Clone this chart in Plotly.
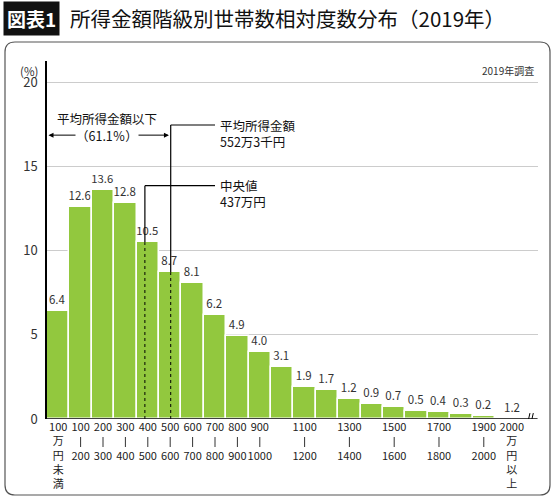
import plotly.graph_objects as go

# 所得金額階級（万円）
classes = ["100万円未満", "100-200", "200-300", "300-400", "400-500", "500-600",
           "600-700", "700-800", "800-900", "900-1000", "1000-1100", "1100-1200",
           "1200-1300", "1300-1400", "1400-1500", "1500-1600", "1600-1700",
           "1700-1800", "1800-1900", "1900-2000", "2000万円以上"]
share = [6.4, 12.6, 13.6, 12.8, 10.5, 8.7, 8.1, 6.2, 4.9, 4.0, 3.1,
         1.9, 1.7, 1.2, 0.9, 0.7, 0.5, 0.4, 0.3, 0.2, 1.2]
# lower / upper bound shown under each bar ("" = no label)
tick_low = ["100", "100", "200", "300", "400", "500", "600", "700", "800", "900", "",
            "1100", "", "1300", "", "1500", "", "1700", "", "1900", "2000"]
tick_high = ["万円未満", "200", "300", "400", "500", "600", "700", "800", "900", "1000", "",
             "1200", "", "1400", "", "1600", "", "1800", "", "2000", "万円以上"]
median_income = 437     # 万円
mean_income = 552.3     # 万円
below_mean_pct = 61.1

FONT = "Noto Sans CJK JP"
W, H = 560, 499
L, R, T, B = 47, 22, 61, 80
GREEN = "#92C83E"


def px(x, y):
    # pixel -> paper coords
    return (x - L) / (W - L - R), (H - B - y) / (H - T - B)


def inc(v):
    # income (万円) -> x position on the bar axis
    return v / 100 - 0.5


xs = list(range(len(classes)))
# the open-ended top class sits a little right, past the axis break
tick_pos = xs[:-1] + [xs[-1] + 0.25]

tick_text = []
range_ticks = []
for i, (lo, hi) in enumerate(zip(tick_low, tick_high)):
    if not lo:
        tick_text.append("")
    elif hi.startswith("万"):
        tick_text.append(lo + "<br>" + "<br>".join(hi))
    else:
        tick_text.append(lo + "<br>\u3000<br>" + hi)
        range_ticks.append(tick_pos[i])

fig = go.Figure()
fig.add_trace(go.Bar(
    x=xs[:-1], y=share[:-1], width=1,
    marker=dict(color=GREEN, line=dict(color="white", width=1.5)),
    text=[f"{v:.1f}" for v in share[:-1]], textposition="outside",
    textfont=dict(size=11.5, color="#333", family=FONT),
    cliponaxis=False, hoverinfo="skip",
))

shapes = []
# frame
x0, y0 = px(5, 42)
x1, y1 = px(550, 495)
rx = 10 / (W - L - R)
ry = 10 / (H - T - B)
path = (f"M {x0+rx},{y0} L {x1-rx},{y0} Q {x1},{y0} {x1},{y0-ry} "
        f"L {x1},{y1+ry} Q {x1},{y1} {x1-rx},{y1} L {x0+rx},{y1} "
        f"Q {x0},{y1} {x0},{y1+ry} L {x0},{y0-ry} Q {x0},{y0} {x0+rx},{y0} Z")
shapes.append(dict(type="path", path=path, xref="paper", yref="paper",
                   line=dict(color="#555", width=1.2)))
# range dashes between lower/upper tick labels
_, d0 = px(0, 437)
_, d1 = px(0, 447)
for tp in range_ticks:
    shapes.append(dict(type="line", xref="x", yref="paper", x0=tp, x1=tp, y0=d0, y1=d1,
                       line=dict(color="#333", width=1)))
# x axis line + break mark
shapes.append(dict(type="line", xref="x", yref="y", x0=-0.5, x1=21.4, y0=0, y1=0,
                   line=dict(color="black", width=1.5), layer="above"))
for bx in (21.0, 21.15):
    shapes.append(dict(type="line", xref="x", yref="y", x0=bx - 0.06, x1=bx + 0.06,
                       y0=-0.35, y1=0.35, line=dict(color="black", width=1)))

# median line
mx = inc(median_income)
shapes.append(dict(type="line", xref="x", yref="y", x0=mx, x1=mx, y0=0, y1=share[4],
                   line=dict(color="black", width=1, dash="dot"), layer="above"))
shapes.append(dict(type="line", xref="x", yref="y", x0=mx, x1=mx, y0=share[4], y1=13.85,
                   line=dict(color="black", width=1.2)))
shapes.append(dict(type="line", xref="x", yref="y", x0=mx, x1=7.0, y0=13.85, y1=13.85,
                   line=dict(color="black", width=1.2)))
# mean line
ax_ = inc(mean_income)
shapes.append(dict(type="line", xref="x", yref="y", x0=ax_, x1=ax_, y0=0, y1=share[5],
                   line=dict(color="black", width=1, dash="dot"), layer="above"))
shapes.append(dict(type="line", xref="x", yref="y", x0=ax_, x1=ax_, y0=share[5], y1=17.45,
                   line=dict(color="black", width=1.2)))
shapes.append(dict(type="line", xref="x", yref="y", x0=ax_, x1=7.0, y0=17.45, y1=17.45,
                   line=dict(color="black", width=1.2)))

ann = []
# title
tx, ty = px(3, 18)
ann.append(dict(xref="paper", yref="paper", x=tx, y=ty, xanchor="left", yanchor="middle",
                text="<b>図表1</b>", showarrow=False, bgcolor="#111", borderpad=3,
                font=dict(family=FONT, size=19, color="white")))
tx, ty = px(68, 18)
ann.append(dict(xref="paper", yref="paper", x=tx, y=ty, xanchor="left", yanchor="middle",
                text="所得金額階級別世帯数相対度数分布（2019年）", showarrow=False,
                font=dict(family=FONT, size=20.5, color="#111")))
tx, ty = px(536, 70)
ann.append(dict(xref="paper", yref="paper", x=tx, y=ty, xanchor="right", yanchor="middle",
                text="2019年調査", showarrow=False, font=dict(family=FONT, size=10, color="#333")))
tx, ty = px(40, 71)
ann.append(dict(xref="paper", yref="paper", x=tx, y=ty, xanchor="right", yanchor="middle",
                text="(%)", showarrow=False, font=dict(family=FONT, size=11.5, color="#333")))
# last class label (bar broken off)
ann.append(dict(xref="x", yref="y", x=tick_pos[-1], y=0, yanchor="bottom", yshift=2,
                text=f"{share[-1]:.1f}", showarrow=False,
                font=dict(family=FONT, size=11.5, color="#333")))
# below-mean arrow
ann.append(dict(xref="x", yref="y", x=ax_ - 0.08, y=16.85, axref="x", ayref="y",
                ax=-0.5, ay=16.85, text="", showarrow=True, arrowside="end+start",
                arrowhead=2, arrowsize=1, arrowwidth=1, arrowcolor="black"))
ann.append(dict(xref="x", yref="y", x=2.18, y=17.85, text="平均所得金額以下", showarrow=False,
                font=dict(family=FONT, size=12.5, color="#111")))
ann.append(dict(xref="x", yref="y", x=2.18, y=16.85, text=f"（{below_mean_pct}％）",
                showarrow=False, bgcolor="white", borderpad=0,
                font=dict(family=FONT, size=12.5, color="#111")))
# mean / median labels
ann.append(dict(xref="x", yref="y", x=7.15, y=17.45, xanchor="left", yanchor="middle",
                text="平均所得金額<br>552万3千円", showarrow=False, align="left", yshift=-8,
                font=dict(family=FONT, size=12.5, color="#111")))
ann.append(dict(xref="x", yref="y", x=7.15, y=13.85, xanchor="left", yanchor="middle",
                text=f"中央値<br>{median_income}万円", showarrow=False, align="left", yshift=-8,
                font=dict(family=FONT, size=12.5, color="#111")))

fig.update_layout(
    width=W, height=H, margin=dict(l=L, r=R, t=T, b=B, autoexpand=False),
    paper_bgcolor="white", plot_bgcolor="white", showlegend=False,
    bargap=0, shapes=shapes, annotations=ann,
    xaxis=dict(range=[-0.5, 21.42], tickvals=tick_pos, ticktext=tick_text, ticks="",
               tickangle=0, automargin=False,
               showgrid=False, zeroline=False, showline=False,
               tickfont=dict(family=FONT, size=11, color="#222"), fixedrange=True),
    yaxis=dict(range=[0, 21.25], tickvals=[0, 5, 10, 15, 20], ticks="", automargin=False,
               showgrid=True, gridcolor="#cccccc", gridwidth=1, zeroline=False,
               showline=True, linecolor="black", linewidth=1.5, ticklabelstandoff=5,
               tickfont=dict(family=FONT, size=13, color="#333"), fixedrange=True),
)

fig.write_html("out.html", config={"displayModeBar": False},
               post_script="document.body.style.margin='0';")
